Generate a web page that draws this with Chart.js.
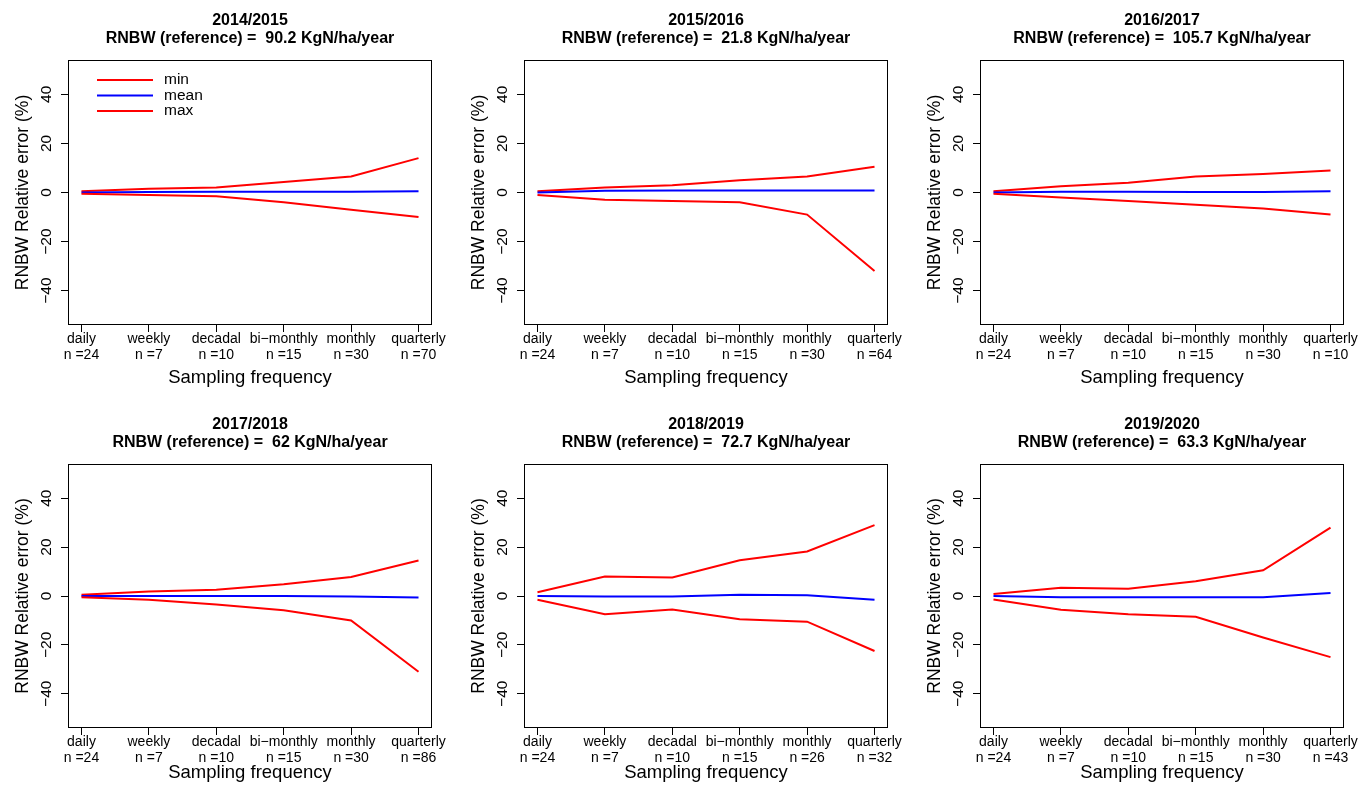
<!DOCTYPE html>
<html>
<head>
<meta charset="utf-8">
<script src="https://cdn.jsdelivr.net/npm/chart.js@4.4.0/dist/chart.umd.min.js"></script>
<style>
  html, body { margin: 0; padding: 0; background: #fff; overflow: hidden; }
  #wrap { position: relative; width: 1360px; height: 793px; }
  #wrap canvas { position: absolute; }
</style>
</head>
<body>
<div id="wrap"></div>
<script>
// data
const seasons = ['2014/2015', '2015/2016', '2016/2017', '2017/2018', '2018/2019', '2019/2020'];
const references = ['90.2', '21.8', '105.7', '62', '72.7', '63.3'];
const frequencies = ['daily', 'weekly', 'decadal', 'bi\u2212monthly', 'monthly', 'quarterly'];
const sampleSizes = [
  [24, 7, 10, 15, 30, 70],
  [24, 7, 10, 15, 30, 64],
  [24, 7, 10, 15, 30, 10],
  [24, 7, 10, 15, 30, 86],
  [24, 7, 10, 15, 26, 32],
  [24, 7, 10, 15, 30, 43]
];
const minError = [
  [-0.5, -1, -1.5, -4, -7, -10],
  [-1, -3, -3.5, -4, -9, -32],
  [-0.5, -2, -3.5, -5, -6.5, -9],
  [-0.5, -1.5, -3.5, -5.8, -10, -31],
  [-1.5, -7.5, -5.5, -9.5, -10.5, -22.5],
  [-1.4, -5.6, -7.5, -8.5, -17, -25]
];
const meanError = [
  [0, 0.2, 0.3, 0.3, 0.3, 0.5],
  [0, 0.7, 0.8, 0.8, 0.8, 0.8],
  [0, 0.3, 0.3, 0.2, 0.2, 0.5],
  [0, 0, 0, 0, -0.2, -0.6],
  [0, -0.2, -0.2, 0.5, 0.3, -1.5],
  [0, -0.5, -0.5, -0.5, -0.5, 1.2]
];
const maxError = [
  [0.5, 1.5, 2, 4.3, 6.5, 14],
  [0.5, 2, 3, 5, 6.5, 10.5],
  [0.5, 2.5, 4, 6.5, 7.5, 9],
  [0.5, 1.8, 2.6, 4.8, 7.8, 14.5],
  [1.5, 8, 7.6, 14.6, 18.2, 29],
  [0.8, 3.4, 3, 6, 10.5, 28]
];
const yTicks = [-40, -20, 0, 20, 40];
const seriesNames = ['min', 'mean', 'max'];
const seriesColors = ['#ff0000', '#0000ff', '#ff0000'];

const FONT = "'Liberation Sans', Arial, Helvetica, sans-serif";

// page layout (R par(mfrow = c(2, 3)) look)
const colLeft = [0, 456, 912];
const canvasW = [456, 456, 448];
const rowTop = [0, 404];
const canvasH = [396, 389];
const boxH = [265, 264];
const xTitlePad = [7, 9];
const BOX_L = 68, BOX_T = 60, BOX_W = 364;

// titles, box and legend drawn on top of the chart
const panelDecor = {
  id: 'panelDecor',
  afterDraw(chart, args, opts) {
    const { ctx, chartArea } = chart;
    const cx = (chartArea.left + chartArea.right) / 2;
    ctx.save();
    ctx.fillStyle = '#000';
    ctx.textAlign = 'center';
    ctx.textBaseline = 'middle';
    ctx.font = 'bold 16px ' + FONT;
    ctx.fillText(opts.lines[0], cx, chartArea.top - 39);
    ctx.fillText(opts.lines[1], cx, chartArea.top - 21);

    ctx.strokeStyle = '#000';
    ctx.lineWidth = 1;
    ctx.strokeRect(Math.round(chartArea.left) + 0.5, Math.round(chartArea.top) + 0.5,
      Math.round(chartArea.right - chartArea.left) - 1, Math.round(chartArea.bottom - chartArea.top) - 1);

    if (opts.legend) {
      ctx.font = '15.5px ' + FONT;
      ctx.textAlign = 'left';
      ctx.lineWidth = 2;
      chart.data.datasets.forEach((ds, i) => {
        const y = chartArea.top + 20 + i * 15.5;
        ctx.strokeStyle = ds.borderColor;
        ctx.beginPath();
        ctx.moveTo(chartArea.left + 29, y);
        ctx.lineTo(chartArea.left + 85, y);
        ctx.stroke();
        ctx.fillStyle = '#000';
        ctx.fillText(ds.label, chartArea.left + 96, y);
      });
    }
    ctx.restore();
  }
};

const wrap = document.getElementById('wrap');

seasons.forEach((season, p) => {
  const row = Math.floor(p / 3);
  const col = p % 3;
  const W = canvasW[col];
  const H = canvasH[row];

  const canvas = document.createElement('canvas');
  canvas.width = W;
  canvas.height = H;
  canvas.style.left = colLeft[col] + 'px';
  canvas.style.top = rowTop[row] + 'px';
  canvas.style.width = W + 'px';
  canvas.style.height = H + 'px';
  wrap.appendChild(canvas);

  const series = [minError[p], meanError[p], maxError[p]];

  new Chart(canvas.getContext('2d'), {
    type: 'line',
    data: {
      datasets: series.map((vals, s) => ({
        label: seriesNames[s],
        data: vals.map((v, i) => ({ x: i + 1, y: v })),
        borderColor: seriesColors[s],
        backgroundColor: seriesColors[s],
        borderWidth: 2,
        pointRadius: 0,
        tension: 0,
        fill: false
      }))
    },
    options: {
      responsive: false,
      animation: false,
      devicePixelRatio: 1,
      layout: {
        padding: { top: BOX_T, left: 0, right: W - BOX_L - BOX_W, bottom: 0 }
      },
      plugins: {
        legend: { display: false },
        tooltip: { enabled: false },
        panelDecor: {
          lines: [season, 'RNBW (reference) =  ' + references[p] + ' KgN/ha/year'],
          legend: p === 0
        }
      },
      scales: {
        x: {
          type: 'linear',
          min: 0.8,
          max: 6.2,
          afterBuildTicks: (scale) => {
            scale.ticks = frequencies.map((f, i) => ({ value: i + 1 }));
          },
          afterFit: (scale) => { scale.height = H - BOX_T - boxH[row]; },
          grid: { drawOnChartArea: false, drawTicks: true, tickLength: 7, color: '#000', lineWidth: 1 },
          border: { display: false },
          ticks: {
            autoSkip: false,
            maxRotation: 0,
            minRotation: 0,
            padding: 0,
            color: '#000',
            font: { family: FONT, size: 14, lineHeight: 1.08 },
            callback: (value) => {
              const i = Math.round(value) - 1;
              return [frequencies[i], 'n =' + sampleSizes[p][i]];
            }
          },
          title: {
            display: true,
            text: 'Sampling frequency',
            color: '#000',
            font: { family: FONT, size: 18.5 },
            padding: { top: 0, bottom: xTitlePad[row] }
          }
        },
        y: {
          type: 'linear',
          min: -54,
          max: 54,
          afterBuildTicks: (scale) => {
            scale.ticks = yTicks.map(v => ({ value: v }));
          },
          afterFit: (scale) => { scale.width = BOX_L; },
          grid: { drawOnChartArea: false, drawTicks: true, tickLength: 7, color: '#000', lineWidth: 1 },
          border: { display: false },
          ticks: {
            minRotation: 90,
            maxRotation: 90,
            crossAlign: 'center',
            padding: 1,
            color: '#000',
            font: { family: FONT, size: 15.5 },
            callback: (value) => (value < 0 ? '\u2212' + Math.abs(value) : String(value))
          },
          title: {
            display: true,
            text: 'RNBW Relative error (%)',
            color: '#000',
            font: { family: FONT, size: 17.5 },
            padding: { top: 13, bottom: 0 }
          }
        }
      }
    },
    plugins: [panelDecor]
  });
});
</script>
</body>
</html>
